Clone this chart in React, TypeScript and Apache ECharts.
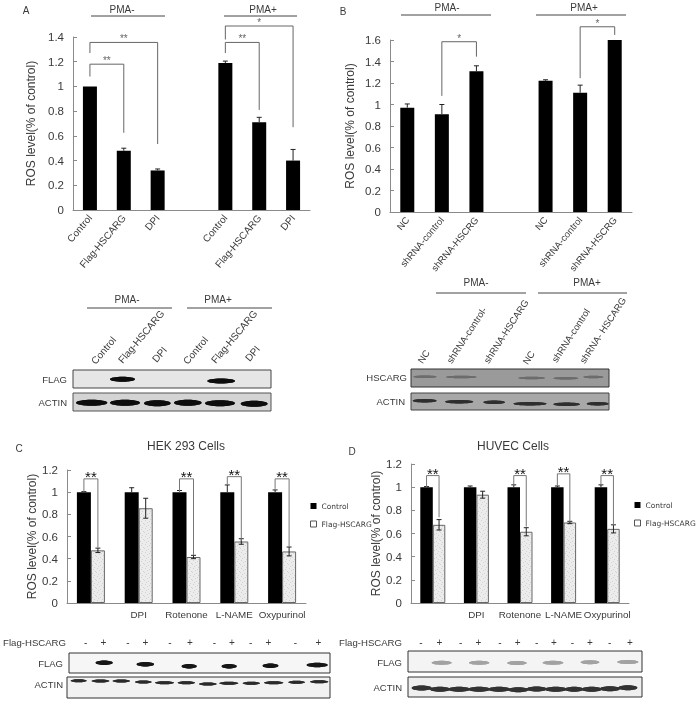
import React, { useEffect, useRef } from "react";
import * as echarts from "echarts";

// ---------- data ----------
const catsA = ["Control", "Flag-HSCARG", "DPI", "", "Control", "Flag-HSCARG", "DPI"];
const valuesA = [1, 0.48, 0.32, null, 1.19, 0.71, 0.4];
const errorsA = [0, 0.02, 0.012, null, 0.015, 0.04, 0.09];
const catsB = ["NC", "shRNA-control", "shRNA-HSCRG", "", "NC", "shRNA-control", "shRNA-HSCRG"];
const valuesB = [0.97, 0.91, 1.31, null, 1.22, 1.11, 1.6];
const errorsB = [0.035, 0.09, 0.05, null, 0.01, 0.07, 0];
const catsCD = ["", "DPI", "Rotenone", "L-NAME", "Oxypurinol"];
const controlC = [1, 1, 1, 1, 1];
const controlErrC = [0.005, 0.04, 0.015, 0.065, 0.02];
const flagC = [0.475, 0.855, 0.415, 0.555, 0.465];
const flagErrC = [0.02, 0.09, 0.015, 0.025, 0.04];
const controlD = [1, 1, 1, 1, 1];
const controlErrD = [0.005, 0.01, 0.02, 0.01, 0.02];
const flagD = [0.675, 0.935, 0.615, 0.695, 0.64];
const flagErrD = [0.045, 0.03, 0.035, 0.01, 0.035];
// [left category, left foot, top, right category, right foot, stars]
const bracketsA = [
  [0, 1.08, 1.18, 1, 0.625, "**"],
  [0, 1.27, 1.356, 2, 0.534, "**"],
  [4, 1.27, 1.356, 5, 0.81, "**"],
  [4, 1.38, 1.489, 6, 0.67, "*"],
];
const bracketsB = [
  [1, 1.08, 1.584, 2, 1.445, "*"],
  [5, 1.245, 1.723, 6, 1.647, "*"],
];
const bracketsC = [
  [0, 1, 1.12, 0, 0.5, "**"],
  [2, 1, 1.12, 2, 0.43, "**"],
  [3, 1.07, 1.14, 3, 0.56, "**"],
  [4, 1.03, 1.12, 4, 0.51, "**"],
];
const bracketsD = [
  [0, 1, 1.1, 0, 0.74, "**"],
  [2, 1.01, 1.1, 2, 0.66, "**"],
  [3, 1.01, 1.115, 3, 0.7, "**"],
  [4, 1.02, 1.1, 4, 0.67, "**"],
];
const yTitle = "ROS level(% of control)";
const legendNames = ["Control", "Flag-HSCARG"];
const signs = ["-", "+", "-", "+", "-", "+", "-", "+", "-", "+", "-", "+"];

// ---------- drawing constants ----------
const FONT = '"Liberation Sans", Arial, sans-serif';
const INK = "#3a3a3a";
const AXIS = "#8a8a8a";

function speckle() {
  const c = document.createElement("canvas");
  c.width = 8;
  c.height = 8;
  const g = c.getContext("2d")!;
  g.fillStyle = "#ececec";
  g.fillRect(0, 0, 8, 8);
  g.fillStyle = "#d2d2d2";
  [[1, 0], [5, 1], [3, 2], [7, 3], [0, 4], [4, 5], [2, 6], [6, 7]].forEach(([x, y]) => g.fillRect(x, y, 1, 1));
  return c;
}

function axes(i: number, cats: any[], max: number, gap: number, rotate: number, labelSize: number, size: number) {
  return {
    x: {
      type: "category", gridIndex: i, data: cats,
      axisLine: { lineStyle: { color: AXIS } },
      axisTick: { inside: true, length: 4, lineStyle: { color: AXIS } },
      axisLabel: { interval: 0, rotate, color: INK, fontFamily: FONT, fontSize: labelSize, margin: 6 },
    },
    y: {
      type: "value", gridIndex: i, min: 0, max, interval: 0.2,
      name: yTitle, nameLocation: "middle", nameGap: gap,
      nameTextStyle: { color: INK, fontFamily: FONT, fontSize: 12 },
      splitLine: { show: false },
      axisLine: { show: true, lineStyle: { color: AXIS } },
      axisTick: { show: true, inside: true, length: 4, lineStyle: { color: AXIS } },
      axisLabel: { color: INK, fontFamily: FONT, fontSize: size, margin: 9 },
    },
  };
}

function errorSeries(i: number, vals: any[], errs: any[], offset: number, both: boolean, cap: number) {
  return {
    type: "custom", xAxisIndex: i, yAxisIndex: i, silent: true, z: 5,
    encode: { x: 0, y: 1 },
    data: vals.map((v, k) => [k, v, errs[k]]).filter((d) => d[1] != null && d[2] > 0),
    renderItem: (_: any, api: any) => {
      const k = api.value(0), v = api.value(1), e = api.value(2);
      const hi = api.coord([k, v + e]);
      const lo = api.coord([k, both ? v - e : v]);
      const x = hi[0] + offset;
      const st = { stroke: "#222", lineWidth: 1 };
      const kids: any[] = [
        { type: "line", shape: { x1: x, y1: hi[1], x2: x, y2: lo[1] }, style: st },
        { type: "line", shape: { x1: x - cap, y1: hi[1], x2: x + cap, y2: hi[1] }, style: st },
      ];
      if (both) kids.push({ type: "line", shape: { x1: x - cap, y1: lo[1], x2: x + cap, y2: lo[1] }, style: st });
      return { type: "group", children: kids };
    },
  };
}

function bracketSeries(i: number, list: any[], offset: number, starSize: number, starColor: string, lift: number, stroke: string) {
  return {
    type: "custom", xAxisIndex: i, yAxisIndex: i, silent: true, z: 6,
    encode: { x: 0, y: 1 },
    data: list,
    renderItem: (p: any, api: any) => {
      const b = list[p.dataIndex];
      const l = api.coord([b[0], b[1]]);
      const t = api.coord([b[0], b[2]]);
      const r = api.coord([b[3], b[4]]);
      const xl = l[0] - offset, xr = r[0] + offset;
      return {
        type: "group",
        children: [
          { type: "polyline", shape: { points: [[xl, l[1]], [xl, t[1]], [xr, t[1]], [xr, r[1]]] }, style: { stroke, lineWidth: 1, fill: "none" } },
          { type: "text", style: { text: b[5], x: (xl + xr) / 2, y: t[1] - lift, align: "center", verticalAlign: "middle", fill: starColor, font: `${starSize}px ${FONT}` } },
        ],
      };
    },
  };
}

function text(s: string, x: number, y: number, size = 10, align = "center", rotation = 0, va = "middle", fill = INK) {
  return { type: "text", x, y, rotation, silent: true, style: { text: s, x: 0, y: 0, align, verticalAlign: va, fill, font: `${size}px ${FONT}` } };
}
function hline(x1: number, x2: number, y: number) {
  return { type: "line", silent: true, shape: { x1, y1: y, x2, y2: y }, style: { stroke: "#444", lineWidth: 1 } };
}
function box(x1: number, y1: number, x2: number, y2: number, fill: string, stroke = "#444") {
  return { type: "rect", silent: true, shape: { x: x1, y: y1, width: x2 - x1, height: y2 - y1 }, style: { fill, stroke, lineWidth: 1 } };
}
function band(x1: number, x2: number, y: number, h: number, fill: string, blur = 1.5) {
  return {
    type: "ellipse", silent: true,
    shape: { cx: (x1 + x2) / 2, cy: y, rx: (x2 - x1) / 2, ry: h / 2 },
    style: { fill, shadowBlur: blur, shadowColor: fill },
  };
}
// bands are noted as [x1, x2, y] in the 3x crop coordinates
function bands(ox: number, oy: number, list: number[][], h: number, fill: string, blur = 1.5) {
  return list.map(([a, b, y]) => band(ox + a / 3, ox + b / 3, oy + y / 3, h, fill, blur));
}

function blots(): any[] {
  const out: any[] = [];
  // panel letters
  out.push(text("A", 26, 10), text("B", 343, 11), text("C", 19, 448), text("D", 352, 451));
  // top brackets of the charts
  out.push(text("PMA-", 122, 9), hline(91, 165, 16), text("PMA+", 263, 9), hline(224, 297, 16));
  out.push(text("PMA-", 447, 7), hline(401, 491, 15), text("PMA+", 584, 7), hline(536, 626, 15));
  out.push(text("HEK 293 Cells", 186, 446, 12), text("HUVEC Cells", 513, 446, 12));

  // blot A
  out.push(text("PMA-", 127, 299), hline(87, 172, 308), text("PMA+", 218, 299), hline(187, 272, 308));
  const rot50 = (50 * Math.PI) / 180;
  ([["Control", 97, 366], ["Flag-HSCARG", 124, 365], ["DPI", 158, 364], ["Control", 189, 366], ["Flag-HSCARG", 217, 365], ["DPI", 251, 363]] as any[]).forEach(([s, x, y]) =>
    out.push(text(s, x, y, 10, "left", rot50, "bottom")));
  out.push(box(73, 370, 271, 388, "#e6e6e6"), box(73, 393, 271, 411, "#d4d4d4", "#555"));
  out.push(...bands(0, 270, [[330, 405, 328], [622, 705, 333]], 5, "#111"));
  out.push(...bands(0, 270, [[228, 322, 398], [330, 420, 398], [432, 512, 400], [522, 605, 398], [615, 705, 400], [722, 803, 401]], 6, "#111"));
  out.push(text("FLAG", 67, 379, 9.5, "right"), text("ACTIN", 67, 402, 9.5, "right"));

  // blot B
  out.push(text("PMA-", 476, 282), hline(436, 526, 293), text("PMA+", 587, 282), hline(538, 627, 293));
  const rot57 = (57 * Math.PI) / 180;
  ([["NC", 424, 365], ["shRNA-control-", 453, 365], ["shRNA-HSCARG", 490, 365], ["NC", 529, 366], ["shRNA-control", 558, 364], ["shRNA- HSCARG", 586, 365]] as any[]).forEach(([s, x, y]) =>
    out.push(text(s, x, y, 9.5, "left", rot57, "bottom")));
  out.push(box(411, 369, 609, 387, "#9a9a9a", "#333"), box(411, 393, 609, 410, "#a8a8a8", "#444"));
  out.push(...bands(340, 270, [[220, 290, 320], [318, 410, 321], [535, 615, 324], [640, 715, 325], [730, 790, 321]], 2.5, "#6c6c6c", 1));
  out.push(...bands(340, 270, [[218, 290, 392], [315, 400, 395], [430, 495, 397], [520, 620, 401], [640, 720, 403], [740, 806, 401]], 3.5, "#2e2e2e", 1));
  out.push(text("HSCARG", 407, 377, 9.5, "right"), text("ACTIN", 405, 401, 9.5, "right"));

  // blot C
  out.push(text("Flag-HSCARG", 66, 642, 9.6, "right"));
  [257, 310, 384, 436, 510, 570, 643, 696, 752, 805, 886, 955].forEach((x, k) => out.push(text(signs[k], x / 3, 642, 10)));
  out.push(box(69, 653, 330, 673, "#f6f6f6", "#333"), box(67, 677, 330, 698, "#f2f2f2", "#333"));
  out.push(...bands(0, 430, [[287, 338, 698], [410, 462, 703], [545, 590, 709], [665, 710, 709], [788, 835, 707], [920, 983, 705]], 4.5, "#151515", 1));
  out.push(...bands(0, 430, [[212, 260, 752], [275, 328, 753], [338, 390, 753], [405, 455, 756], [465, 522, 758], [533, 585, 758], [597, 650, 762], [658, 715, 760], [728, 780, 760], [792, 850, 758], [865, 915, 757], [930, 985, 755]], 3, "#2a2a2a", 1));
  out.push(text("FLAG", 63, 663, 9.5, "right"), text("ACTIN", 63, 684, 9.5, "right"));

  // blot D
  out.push(text("Flag-HSCARG", 402, 642, 9.6, "right"));
  [213, 268, 332, 385, 450, 503, 560, 612, 667, 720, 779, 840].forEach((x, k) => out.push(text(signs[k], 350 + x / 3, 642, 10)));
  out.push(box(408, 651, 642, 672, "#f4f4f4", "#333"), box(408, 677, 642, 697, "#efefef", "#333"));
  out.push(...bands(350, 430, [[245, 305, 698], [357, 418, 698], [472, 530, 699], [578, 640, 698], [692, 748, 697], [802, 865, 696]], 4, "#a2a2a2", 1.5));
  out.push(...bands(350, 430, [[185, 245, 774], [240, 300, 778], [295, 360, 778], [355, 420, 778], [415, 480, 778], [475, 535, 779], [530, 590, 777], [585, 650, 778], [645, 700, 778], [695, 755, 778], [750, 810, 776], [805, 862, 773]], 5, "#333", 1));
  out.push(text("FLAG", 402, 662, 9.5, "right"), text("ACTIN", 402, 687, 9.5, "right"));
  return out;
}

export default function App() {
  const ref = useRef<HTMLDivElement>(null);
  useEffect(() => {
    document.body.style.margin = "0";
    const chart = echarts.init(ref.current!, null, { renderer: "svg" });
    const texture = { image: speckle(), repeat: "repeat" };
    const a = axes(0, catsA, 1.4, 36, 50, 10, 11.5);
    const b = axes(1, catsB, 1.6, 34, 50, 9.5, 11.5);
    const c = axes(2, catsCD, 1.2, 25, 0, 9.8, 11.5);
    const d = axes(3, catsCD, 1.2, 28, 0, 9.8, 11.5);
    const flagStyle = { color: texture, borderColor: "#666", borderWidth: 1 };
    const pairBars = (i: number, ctrl: number[], flag: number[], w: number) => [
      { type: "bar", name: legendNames[0], xAxisIndex: i, yAxisIndex: i, data: ctrl, barWidth: w, barGap: "0%", itemStyle: { color: "#000" } },
      { type: "bar", name: legendNames[1], xAxisIndex: i, yAxisIndex: i, data: flag, barWidth: w, barGap: "0%", itemStyle: flagStyle },
    ];
    const legendAt = (left: number, top: number) => ({
      left, top, padding: 0, orient: "vertical", itemWidth: 6, itemHeight: 6, itemGap: 10, selectedMode: false,
      textStyle: { fontFamily: '"DejaVu Sans", sans-serif', fontSize: 7.5, color: INK },
      data: [
        { name: legendNames[0], icon: "rect", itemStyle: { color: "#000", borderWidth: 0 } },
        { name: legendNames[1], icon: "rect", itemStyle: { color: "#fff", borderColor: "#555", borderWidth: 1 } },
      ],
    });
    chart.setOption({
      animation: false,
      backgroundColor: "#fff",
      grid: [
        { left: 73, top: 37, width: 237, height: 173 },
        { left: 390, top: 40, width: 242, height: 172 },
        { left: 67, top: 470, width: 239, height: 133 },
        { left: 411, top: 464, width: 218, height: 139 },
      ],
      xAxis: [a.x, b.x, c.x, d.x],
      yAxis: [a.y, b.y, c.y, d.y],
      legend: [legendAt(310, 502), legendAt(634, 501)],
      series: [
        { type: "bar", name: "PMA A", xAxisIndex: 0, yAxisIndex: 0, data: valuesA, barWidth: 14, itemStyle: { color: "#000" } },
        errorSeries(0, valuesA, errorsA, 0, false, 2.5),
        bracketSeries(0, bracketsA, 0, 10, "#666", 4, "#666"),
        { type: "bar", name: "PMA B", xAxisIndex: 1, yAxisIndex: 1, data: valuesB, barWidth: 14, itemStyle: { color: "#000" } },
        errorSeries(1, valuesB, errorsB, 0, false, 2.5),
        bracketSeries(1, bracketsB, 0, 10, "#666", 3, "#666"),
        ...pairBars(2, controlC, flagC, 14),
        errorSeries(2, controlC, controlErrC, -7, false, 2.5),
        errorSeries(2, flagC, flagErrC, 7, true, 2.5),
        bracketSeries(2, bracketsC, 7, 15, "#111", 2, "#777"),
        ...pairBars(3, controlD, flagD, 12.5),
        errorSeries(3, controlD, controlErrD, -6.25, false, 2.5),
        errorSeries(3, flagD, flagErrD, 6.25, true, 2.5),
        bracketSeries(3, bracketsD, 6.25, 15, "#111", 2, "#777"),
      ],
      graphic: { elements: blots() },
    });
    return () => chart.dispose();
  }, []);
  return <div ref={ref} style={{ width: 697, height: 701, filter: "blur(0.35px)" }} />;
}
